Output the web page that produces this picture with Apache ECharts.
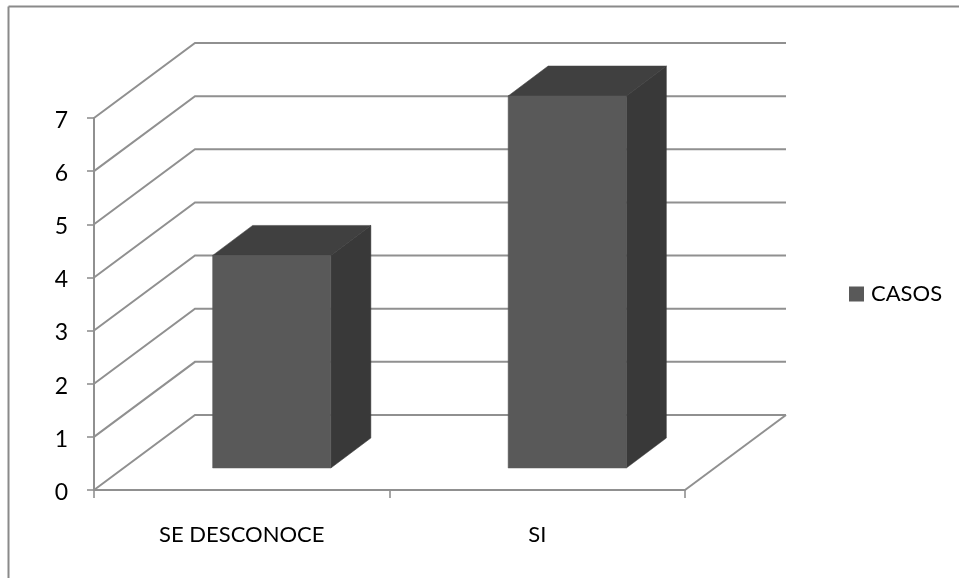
<!DOCTYPE html>
<html>
<head>
<meta charset="utf-8">
<style>html,body{margin:0;padding:0;background:#fff}#chart{width:959px;height:578px}</style>
<script src="https://cdn.jsdelivr.net/npm/echarts@6/dist/echarts.min.js"></script>
</head>
<body>
<div id="chart"></div>
<script>
// Chart content
const categories = ['SE DESCONOCE', 'SI'];
const casos = [4, 7];
const yTicks = [0, 1, 2, 3, 4, 5, 6, 7];
const seriesName = 'CASOS';

// Pseudo-3D projection of the plot box and the columns (pixels)
const WALL_DX = 101, WALL_DY = -75;
const BAR_SHIFT_X = 30, BAR_SHIFT_Y = -22;
const BAR_DX = 40, BAR_DY = -30;
const BAR_RATIO = 0.4;
const GRID_COLOR = '#909090';
const FONT = 'Lato, "Open Sans", sans-serif';
const lineStyle = { stroke: GRID_COLOR, lineWidth: 2, fill: null };

function renderWall(params, api) {
  const band = api.size([1, 0])[0];
  const p = api.coord([0, api.value(0)]);
  const left = p[0] - band / 2;
  const right = left + band * categories.length;
  const children = [{
    type: 'polyline',
    shape: { points: [[left, p[1]], [left + WALL_DX, p[1] + WALL_DY], [right + WALL_DX, p[1] + WALL_DY]] },
    style: lineStyle
  }];
  if (api.value(0) === 0) {
    // right-hand edge of the floor
    children.push({
      type: 'line',
      shape: { x1: right, y1: p[1], x2: right + WALL_DX, y2: p[1] + WALL_DY },
      style: lineStyle
    });
  }
  return { type: 'group', children };
}

function renderBar(params, api) {
  const band = api.size([1, 0])[0];
  const w = band * BAR_RATIO;
  const top = api.coord([api.value(0), api.value(1)]);
  const base = api.coord([api.value(0), 0]);
  const x0 = top[0] - w / 2 + BAR_SHIFT_X, x1 = x0 + w;
  const y0 = top[1] + BAR_SHIFT_Y, y1 = base[1] + BAR_SHIFT_Y;
  const face = (points, fill) => ({
    type: 'polygon',
    shape: { points },
    style: { fill, stroke: fill, lineWidth: 0.5 }
  });
  return {
    type: 'group',
    children: [
      face([[x0, y0], [x1, y0], [x1 + BAR_DX, y0 + BAR_DY], [x0 + BAR_DX, y0 + BAR_DY]], '#404040'),
      face([[x1, y0], [x1 + BAR_DX, y0 + BAR_DY], [x1 + BAR_DX, y1 + BAR_DY], [x1, y1]], '#393939'),
      face([[x0, y0], [x1, y0], [x1, y1], [x0, y1]], '#595959')
    ]
  };
}

const chart = echarts.init(document.getElementById('chart'), null, { renderer: 'canvas' });
chart.setOption({
  animation: false,
  backgroundColor: '#ffffff',
  grid: { left: 94, top: 118, width: 591, height: 372 },
  legend: {
    data: [seriesName],
    left: 849,
    top: 283,
    padding: 0,
    icon: 'rect',
    itemWidth: 15,
    itemHeight: 15,
    textStyle: { color: '#000', fontFamily: FONT, fontSize: 22, padding: [0, 0, 0, 2] }
  },
  xAxis: {
    type: 'category',
    data: categories,
    axisLine: { lineStyle: { color: GRID_COLOR, width: 2 } },
    axisTick: { show: true, length: 8, alignWithLabel: false, lineStyle: { color: GRID_COLOR, width: 1.6 } },
    axisLabel: { color: '#000', fontFamily: FONT, fontSize: 22, margin: 34 }
  },
  yAxis: {
    type: 'value',
    min: 0,
    max: 7,
    interval: 1,
    splitLine: { show: false },
    axisLine: { show: true, lineStyle: { color: GRID_COLOR, width: 2 } },
    axisTick: { show: true, length: 7, lineStyle: { color: GRID_COLOR, width: 1.6 } },
    axisLabel: {
      margin: 26,
      formatter: '{n|{value}}',
      // the top padding sits the digits just below the tick line
      rich: { n: { color: '#000', fontFamily: FONT, fontSize: 23, padding: [5, 0, 0, 0] } }
    }
  },
  series: [
    {
      type: 'custom',
      name: 'walls',
      silent: true,
      z: 1,
      encode: { y: 0 },
      data: yTicks.map(v => [v]),
      renderItem: renderWall
    },
    {
      type: 'custom',
      name: seriesName,
      z: 3,
      itemStyle: { color: '#595959' },
      encode: { x: 0, y: 1 },
      data: casos.map((v, i) => [i, v]),
      renderItem: renderBar
    }
  ],
  graphic: [
    // chart-area border, cropped along the right and bottom edges
    { type: 'line', shape: { x1: 8.5, y1: 6.5, x2: 959, y2: 6.5 }, style: { stroke: '#8a8a8a', lineWidth: 2 } },
    { type: 'line', shape: { x1: 8.5, y1: 6.5, x2: 8.5, y2: 578 }, style: { stroke: '#8a8a8a', lineWidth: 2 } }
  ]
});
</script>
</body>
</html>
